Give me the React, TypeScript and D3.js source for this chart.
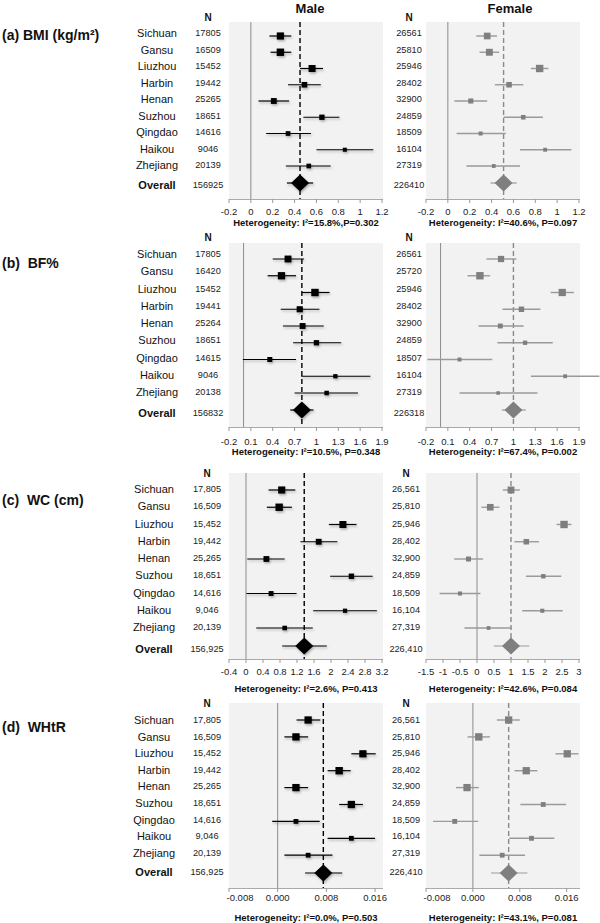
import React from "react";
import * as d3 from "d3";

// ---------------- DATA ----------------
const regions = ["Sichuan", "Gansu", "Liuzhou", "Harbin", "Henan", "Suzhou", "Qingdao", "Haikou", "Zhejiang"];
const overallLabel = "Overall";

// N values (last = overall)
const nMaleBmi = [17805, 16509, 15452, 19442, 25265, 18651, 14616, 9046, 20139, 156925];
const nFemaleBmi = [26561, 25810, 25946, 28402, 32900, 24859, 18509, 16104, 27319, 226410];
const nMaleBf = [17805, 16420, 15452, 19441, 25264, 18651, 14615, 9046, 20138, 156832];
const nFemaleBf = [26561, 25720, 25946, 28402, 32900, 24859, 18507, 16104, 27319, 226318];
const nMaleWc = [17805, 16509, 15452, 19442, 25265, 18651, 14616, 9046, 20139, 156925];
const nFemaleWc = [26561, 25810, 25946, 28402, 32900, 24859, 18509, 16104, 27319, 226410];

// [estimate, lower, upper]; last row = overall
const bmiMale = [
  [0.27, 0.17, 0.37], [0.27, 0.18, 0.37], [0.56, 0.45, 0.66], [0.49, 0.34, 0.64], [0.21, 0.07, 0.35],
  [0.65, 0.48, 0.81], [0.34, 0.14, 0.55], [0.86, 0.6, 1.12], [0.53, 0.32, 0.73], [0.45, 0.33, 0.57],
];
const bmiFemale = [
  [0.36, 0.26, 0.45], [0.38, 0.29, 0.47], [0.84, 0.76, 0.92], [0.56, 0.43, 0.69], [0.21, 0.06, 0.36],
  [0.69, 0.51, 0.87], [0.3, 0.08, 0.53], [0.89, 0.66, 1.13], [0.42, 0.17, 0.66], [0.51, 0.39, 0.63],
];
const bfMale = [
  [0.61, 0.4, 0.83], [0.52, 0.33, 0.72], [0.98, 0.8, 1.18], [0.77, 0.51, 1.04], [0.81, 0.54, 1.1],
  [1.0, 0.68, 1.34], [0.36, -0.01, 0.72], [1.26, 0.79, 1.74], [1.14, 0.7, 1.57], [0.8, 0.64, 0.96],
];
const bfFemale = [
  [0.83, 0.63, 1.04], [0.54, 0.37, 0.68], [1.67, 1.51, 1.83], [1.11, 0.85, 1.37], [0.82, 0.52, 1.14],
  [1.16, 0.78, 1.54], [0.26, -0.18, 0.71], [1.71, 1.24, 2.18], [0.79, 0.26, 1.33], [1.0, 0.84, 1.17],
];
const wcMale = [
  [0.84, 0.53, 1.16], [0.78, 0.49, 1.08], [2.28, 1.95, 2.6], [1.71, 1.28, 2.15], [0.48, 0.03, 0.91],
  [2.48, 1.98, 2.98], [0.59, 0.01, 1.19], [2.33, 1.58, 3.08], [0.91, 0.24, 1.57], [1.37, 0.85, 1.9],
];
const wcFemale = [
  [1.0, 0.76, 1.26], [0.39, 0.13, 0.66], [2.56, 2.34, 2.78], [1.45, 1.1, 1.82], [-0.25, -0.67, 0.18],
  [1.95, 1.44, 2.48], [-0.5, -1.1, 0.1], [1.92, 1.33, 2.52], [0.34, -0.37, 1.03], [1.0, 0.49, 1.54],
];
const whtrMale = [
  [0.005, 0.0031, 0.007], [0.003, 0.0011, 0.005], [0.014, 0.0121, 0.0161], [0.0101, 0.0082, 0.012],
  [0.003, 0.0011, 0.005], [0.0121, 0.0101, 0.014], [0.003, -0.0009, 0.0069], [0.0121, 0.0082, 0.016],
  [0.005, 0.0011, 0.009], [0.0075, 0.0045, 0.0106],
];
const whtrFemale = [
  [0.0061, 0.0041, 0.008], [0.001, -0.0009, 0.0029], [0.0161, 0.0141, 0.018], [0.0091, 0.0071, 0.011],
  [-0.001, -0.0029, 0.001], [0.012, 0.0081, 0.0159], [-0.0031, -0.0068, 0.0009], [0.01, 0.0062, 0.0139],
  [0.005, 0.0011, 0.0089], [0.0061, 0.0031, 0.0093],
];

// Axis ticks and extents
const ticksBmi = [-0.2, 0, 0.2, 0.4, 0.6, 0.8, 1, 1.2];
const ticksBf = [-0.2, 0.1, 0.4, 0.7, 1, 1.3, 1.6, 1.9];
const ticksWcMale = [-0.4, 0, 0.4, 0.8, 1.2, 1.6, 2, 2.4, 2.8, 3.2];
const ticksWcFemale = [-1.5, -1, -0.5, 0, 0.5, 1, 1.5, 2, 2.5, 3];
const ticksWhtr = [-0.008, 0, 0.008, 0.016];
const domBmi = [-0.2, 1.2];
const domBf = [-0.2, 1.9];
const domWcMale = [-0.4, 3.2];
const domWcFemale = [-1.5, 3];
const domWhtrMale = [-0.008, 0.01714];
const domWhtrFemale = [-0.008, 0.0181];

const panelTitles = ["(a) BMI (kg/m²)", "(b)  BF%", "(c)  WC (cm)", "(d)  WHtR"];
const hetMale = [
  "Heterogeneity: I²=15.8%,P=0.302",
  "Heterogeneity: I²=10.5%, P=0.348",
  "Heterogeneity: I²=2.6%, P=0.413",
  "Heterogeneity: I²=0.0%, P=0.503",
];
const hetFemale = [
  "Heterogeneity: I²=40.6%, P=0.097",
  "Heterogeneity: I²=67.4%, P=0.002",
  "Heterogeneity: I²=42.6%, P=0.084",
  "Heterogeneity: I²=43.1%, P=0.081",
];

// ---------------- LAYOUT ----------------
const FONT = "'Liberation Sans', Arial, Helvetica, sans-serif";
const MALE_RANGE = [229, 382];
const FEMALE_RANGE = [426, 579];
const MALE_BG = [229, 383];
const FEMALE_BG = [426, 580];

type Layout = {
  bgTop: number; bgBottom: number; rowY0: number; rowStep: number; overallY: number;
  labY0: number; labStep: number; labOverall: number; tickY: number; hetY: number; nY: number;
  titleY: number; nameX: number; nMaleX: number; nFemaleX: number; firstTickShift: number;
};

const layouts: Layout[] = [
  { bgTop: 22, bgBottom: 199, rowY0: 36, rowStep: 16.25, overallY: 183, labY0: 33, labStep: 16.5, labOverall: 185, tickY: 211, hetY: 222, nY: 17, titleY: 35, nameX: 157, nMaleX: 208, nFemaleX: 409, firstTickShift: 0 },
  { bgTop: 243, bgBottom: 427, rowY0: 259, rowStep: 16.75, overallY: 410, labY0: 254, labStep: 17.25, labOverall: 413, tickY: 441, hetY: 451, nY: 237, titleY: 263, nameX: 157, nMaleX: 208, nFemaleX: 409, firstTickShift: 0 },
  { bgTop: 473, bgBottom: 659, rowY0: 490, rowStep: 17.25, overallY: 646, labY0: 489, labStep: 17.25, labOverall: 649, tickY: 671, hetY: 688, nY: 473, titleY: 500, nameX: 154, nMaleX: 207, nFemaleX: 406, firstTickShift: 0 },
  { bgTop: 703, bgBottom: 888, rowY0: 720, rowStep: 16.9, overallY: 873, labY0: 720, labStep: 16.6, labOverall: 872, tickY: 897, hetY: 917, nY: 703, titleY: 727, nameX: 154, nMaleX: 207, nFemaleX: 406, firstTickShift: 11 },
];

const panels = [
  { male: bmiMale, female: bmiFemale, nM: nMaleBmi, nF: nFemaleBmi, tM: ticksBmi, tF: ticksBmi, dM: domBmi, dF: domBmi, comma: false, fmt: (v: number) => String(+v.toFixed(1)) },
  { male: bfMale, female: bfFemale, nM: nMaleBf, nF: nFemaleBf, tM: ticksBf, tF: ticksBf, dM: domBf, dF: domBf, comma: false, fmt: (v: number) => String(+v.toFixed(1)) },
  { male: wcMale, female: wcFemale, nM: nMaleWc, nF: nFemaleWc, tM: ticksWcMale, tF: ticksWcFemale, dM: domWcMale, dF: domWcFemale, comma: true, fmt: (v: number) => String(+v.toFixed(1)) },
  { male: whtrMale, female: whtrFemale, nM: nMaleWc, nF: nFemaleWc, tM: ticksWhtr, tF: ticksWhtr, dM: domWhtrMale, dF: domWhtrFemale, comma: true, fmt: (v: number) => v.toFixed(3) },
];

function Forest({ data, ticks, domain, range, bg, L, male, het, fmt }: any) {
  const x = d3.scaleLinear().domain(domain).range(range);
  const rowY = (i: number) => (i < regions.length ? L.rowY0 + i * L.rowStep : L.overallY);
  const mark = male ? "#000" : "#7f7f7f";
  const lineCol = male ? "#000" : "#9a9a9a";
  const dashCol = male ? "#000" : "#8a8a8a";
  const widths = data.slice(0, regions.length).map((d: number[]) => x(d[2]) - x(d[1]));
  const wmin = d3.min(widths) as number;
  const overall = data[data.length - 1];
  return (
    <g>
      <rect x={bg[0]} y={L.bgTop} width={bg[1] - bg[0]} height={L.bgBottom - L.bgTop} fill="#f2f2f2" />
      <line x1={x(0)} x2={x(0)} y1={L.bgTop} y2={L.bgBottom} stroke="#8c8c8c" strokeWidth={1} />
      <line x1={x(overall[0])} x2={x(overall[0])} y1={L.bgTop} y2={L.bgBottom} stroke={dashCol} strokeWidth={1.4} strokeDasharray="5,3" />
      {/* axis */}
      <line x1={bg[0]} x2={bg[1]} y1={L.bgBottom + 0.5} y2={L.bgBottom + 0.5} stroke="#aaa" strokeWidth={1} />
      {ticks.map((t: number, i: number) => (
        <g key={"t" + i}>
          <line x1={x(t)} x2={x(t)} y1={L.bgBottom} y2={L.bgBottom + 4} stroke="#999" strokeWidth={1} />
          <text x={x(t) + (i === 0 ? L.firstTickShift : 0)} y={L.tickY} textAnchor="middle" dominantBaseline="central" fontSize={9.5} fill="#222" fontFamily={FONT}>{fmt(t)}</text>
        </g>
      ))}
      {/* study rows */}
      {data.map((d: number[], i: number) => {
        const y = rowY(i);
        const isOverall = i === data.length - 1;
        if (isOverall) {
          const cx = x(d[0]);
          const pts = [[cx - 9, y], [cx, y - 8.5], [cx + 9, y], [cx, y + 8.5]].map((p) => p.join(",")).join(" ");
          return (
            <g key={i} filter={male ? "url(#shadow)" : undefined}>
              <line x1={x(d[1])} x2={x(d[2])} y1={y} y2={y} stroke={lineCol} strokeWidth={1.2} />
              <polygon points={pts} fill={mark} />
            </g>
          );
        }
        const s = 7.4 * Math.pow(wmin / widths[i], 0.6);
        return (
          <g key={i} filter={male ? "url(#shadow)" : undefined}>
            <line x1={x(d[1])} x2={x(d[2])} y1={y} y2={y} stroke={lineCol} strokeWidth={male ? 1.2 : 1.4} />
            <rect x={x(d[0]) - s / 2} y={y - s / 2} width={s} height={s} fill={mark} />
          </g>
        );
      })}
      <text x={(bg[0] + bg[1]) / 2} y={L.hetY} textAnchor="middle" dominantBaseline="central" fontSize={9.5} fontWeight="bold" fill="#111" fontFamily={FONT}>{het}</text>
    </g>
  );
}

export default function App() {
  return (
    <svg width={600} height={923} style={{ position: "absolute", left: 0, top: 0, background: "#fff" }} fontFamily={FONT}>
      <defs>
        <filter id="shadow" x="-20%" y="-50%" width="140%" height="250%">
          <feDropShadow dx="1" dy="1.6" stdDeviation="0.9" floodColor="#000" floodOpacity="0.3" />
        </filter>
      </defs>
      <text x={310} y={8} textAnchor="middle" dominantBaseline="central" fontSize={13} fontWeight="bold" fill="#111">Male</text>
      <text x={510} y={8} textAnchor="middle" dominantBaseline="central" fontSize={13} fontWeight="bold" fill="#111">Female</text>
      {panels.map((p, pi) => {
        const L = layouts[pi];
        const fmtN = p.comma ? d3.format(",") : d3.format("d");
        return (
          <g key={pi}>
            <text x={2} y={L.titleY} dominantBaseline="central" fontSize={14} fontWeight="bold" fill="#111" style={{ whiteSpace: "pre" }}>{panelTitles[pi]}</text>
            <text x={L.nMaleX} y={L.nY} textAnchor="middle" dominantBaseline="central" fontSize={10} fontWeight="bold" fill="#111">N</text>
            <text x={L.nFemaleX} y={L.nY} textAnchor="middle" dominantBaseline="central" fontSize={10} fontWeight="bold" fill="#111">N</text>
            {[...regions, overallLabel].map((r, i) => {
              const y = i < regions.length ? L.labY0 + i * L.labStep : L.labOverall;
              const bold = i === regions.length;
              return (
                <g key={r}>
                  <text x={L.nameX} y={y} textAnchor="middle" dominantBaseline="central" fontSize={11} fontWeight={bold ? "bold" : "normal"} fill="#111">{r}</text>
                  <text x={L.nMaleX} y={y} textAnchor="middle" dominantBaseline="central" fontSize={9.2} fill="#222">{fmtN(p.nM[i])}</text>
                  <text x={L.nFemaleX} y={y} textAnchor="middle" dominantBaseline="central" fontSize={9.2} fill="#222">{fmtN(p.nF[i])}</text>
                </g>
              );
            })}
            <Forest data={p.male} ticks={p.tM} domain={p.dM} range={MALE_RANGE} bg={MALE_BG} L={L} male={true} het={hetMale[pi]} fmt={p.fmt} />
            <Forest data={p.female} ticks={p.tF} domain={p.dF} range={FEMALE_RANGE} bg={FEMALE_BG} L={L} male={false} het={hetFemale[pi]} fmt={p.fmt} />
          </g>
        );
      })}
    </svg>
  );
}
